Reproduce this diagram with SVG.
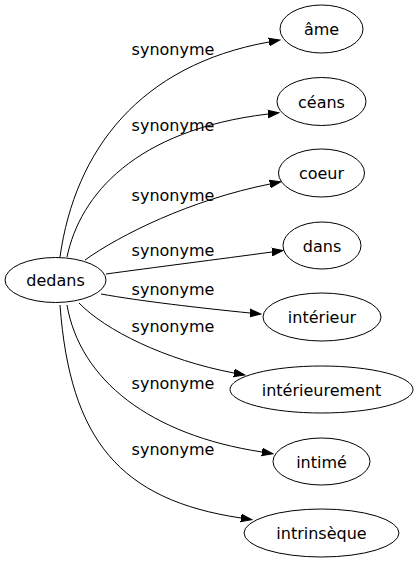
<svg xmlns="http://www.w3.org/2000/svg" width="418" height="563" viewBox="0 0 418 563">
<style>
.node ellipse{fill:none;stroke:#000;stroke-width:1}
.node text{font-family:"DejaVu Sans",sans-serif;font-size:16px;fill:#000;text-anchor:middle}
.edge path{fill:none;stroke:#000;stroke-width:1;marker-end:url(#arr)}
.edge text{font-family:"DejaVu Sans",sans-serif;font-size:16px;fill:#000;text-anchor:middle}
</style>
<defs>
<marker id="arr" markerUnits="userSpaceOnUse" viewBox="0 -5 12 10" refX="0" refY="0" markerWidth="12" markerHeight="10" orient="auto">
<path d="M0,-3.8 L11,0 L0,3.8 Z" fill="#000" stroke="#000" stroke-width="1"/>
</marker>
</defs>
<rect width="418" height="563" fill="#fff"/>
<g id="edges" class="edge">
<path d="M60,257 C75,150 140,65 269,42"/>
<text x="173" y="55">synonyme</text>
<path d="M67,257 C80,195 135,130 268,114"/>
<text x="173" y="131">synonyme</text>
<path d="M85,260 C120,235 190,200 270,184"/>
<text x="173" y="200.5">synonyme</text>
<path d="M106,274 C150,268 220,259 272,252"/>
<text x="173" y="255.5">synonyme</text>
<path d="M101,294 C140,301 200,308 250,313"/>
<text x="173" y="295">synonyme</text>
<path d="M79,303 C105,330 165,360 234,373"/>
<text x="173" y="331.5">synonyme</text>
<path d="M67,305 C80,380 150,435 262,452"/>
<text x="173" y="389">synonyme</text>
<path d="M60,305 C70,440 120,500 241,518"/>
<text x="173" y="455">synonyme</text>
</g>
<g id="dedans" class="node"><ellipse cx="55.5" cy="280" rx="50.5" ry="22.5"/><text x="55.5" y="286">dedans</text></g>
<g id="ame" class="node"><ellipse cx="321.5" cy="29" rx="41.5" ry="24"/><text x="321.5" y="35">âme</text></g>
<g id="ceans" class="node"><ellipse cx="321.5" cy="101.5" rx="44.5" ry="24"/><text x="321.5" y="107.5">céans</text></g>
<g id="coeur" class="node"><ellipse cx="321.5" cy="173" rx="43" ry="24"/><text x="321.5" y="179">coeur</text></g>
<g id="dans" class="node"><ellipse cx="322" cy="245.5" rx="39" ry="23.5"/><text x="322" y="251.5">dans</text></g>
<g id="interieur" class="node"><ellipse cx="322" cy="317" rx="59" ry="24"/><text x="322" y="323">intérieur</text></g>
<g id="interieurement" class="node"><ellipse cx="321.5" cy="389.5" rx="91.5" ry="23.5"/><text x="321.5" y="395.5">intérieurement</text></g>
<g id="intime" class="node"><ellipse cx="321.5" cy="461.5" rx="48.5" ry="23.5"/><text x="321.5" y="467.5">intimé</text></g>
<g id="intrinseque" class="node"><ellipse cx="321.5" cy="533" rx="77.5" ry="24"/><text x="321.5" y="539">intrinsèque</text></g>
</svg>
